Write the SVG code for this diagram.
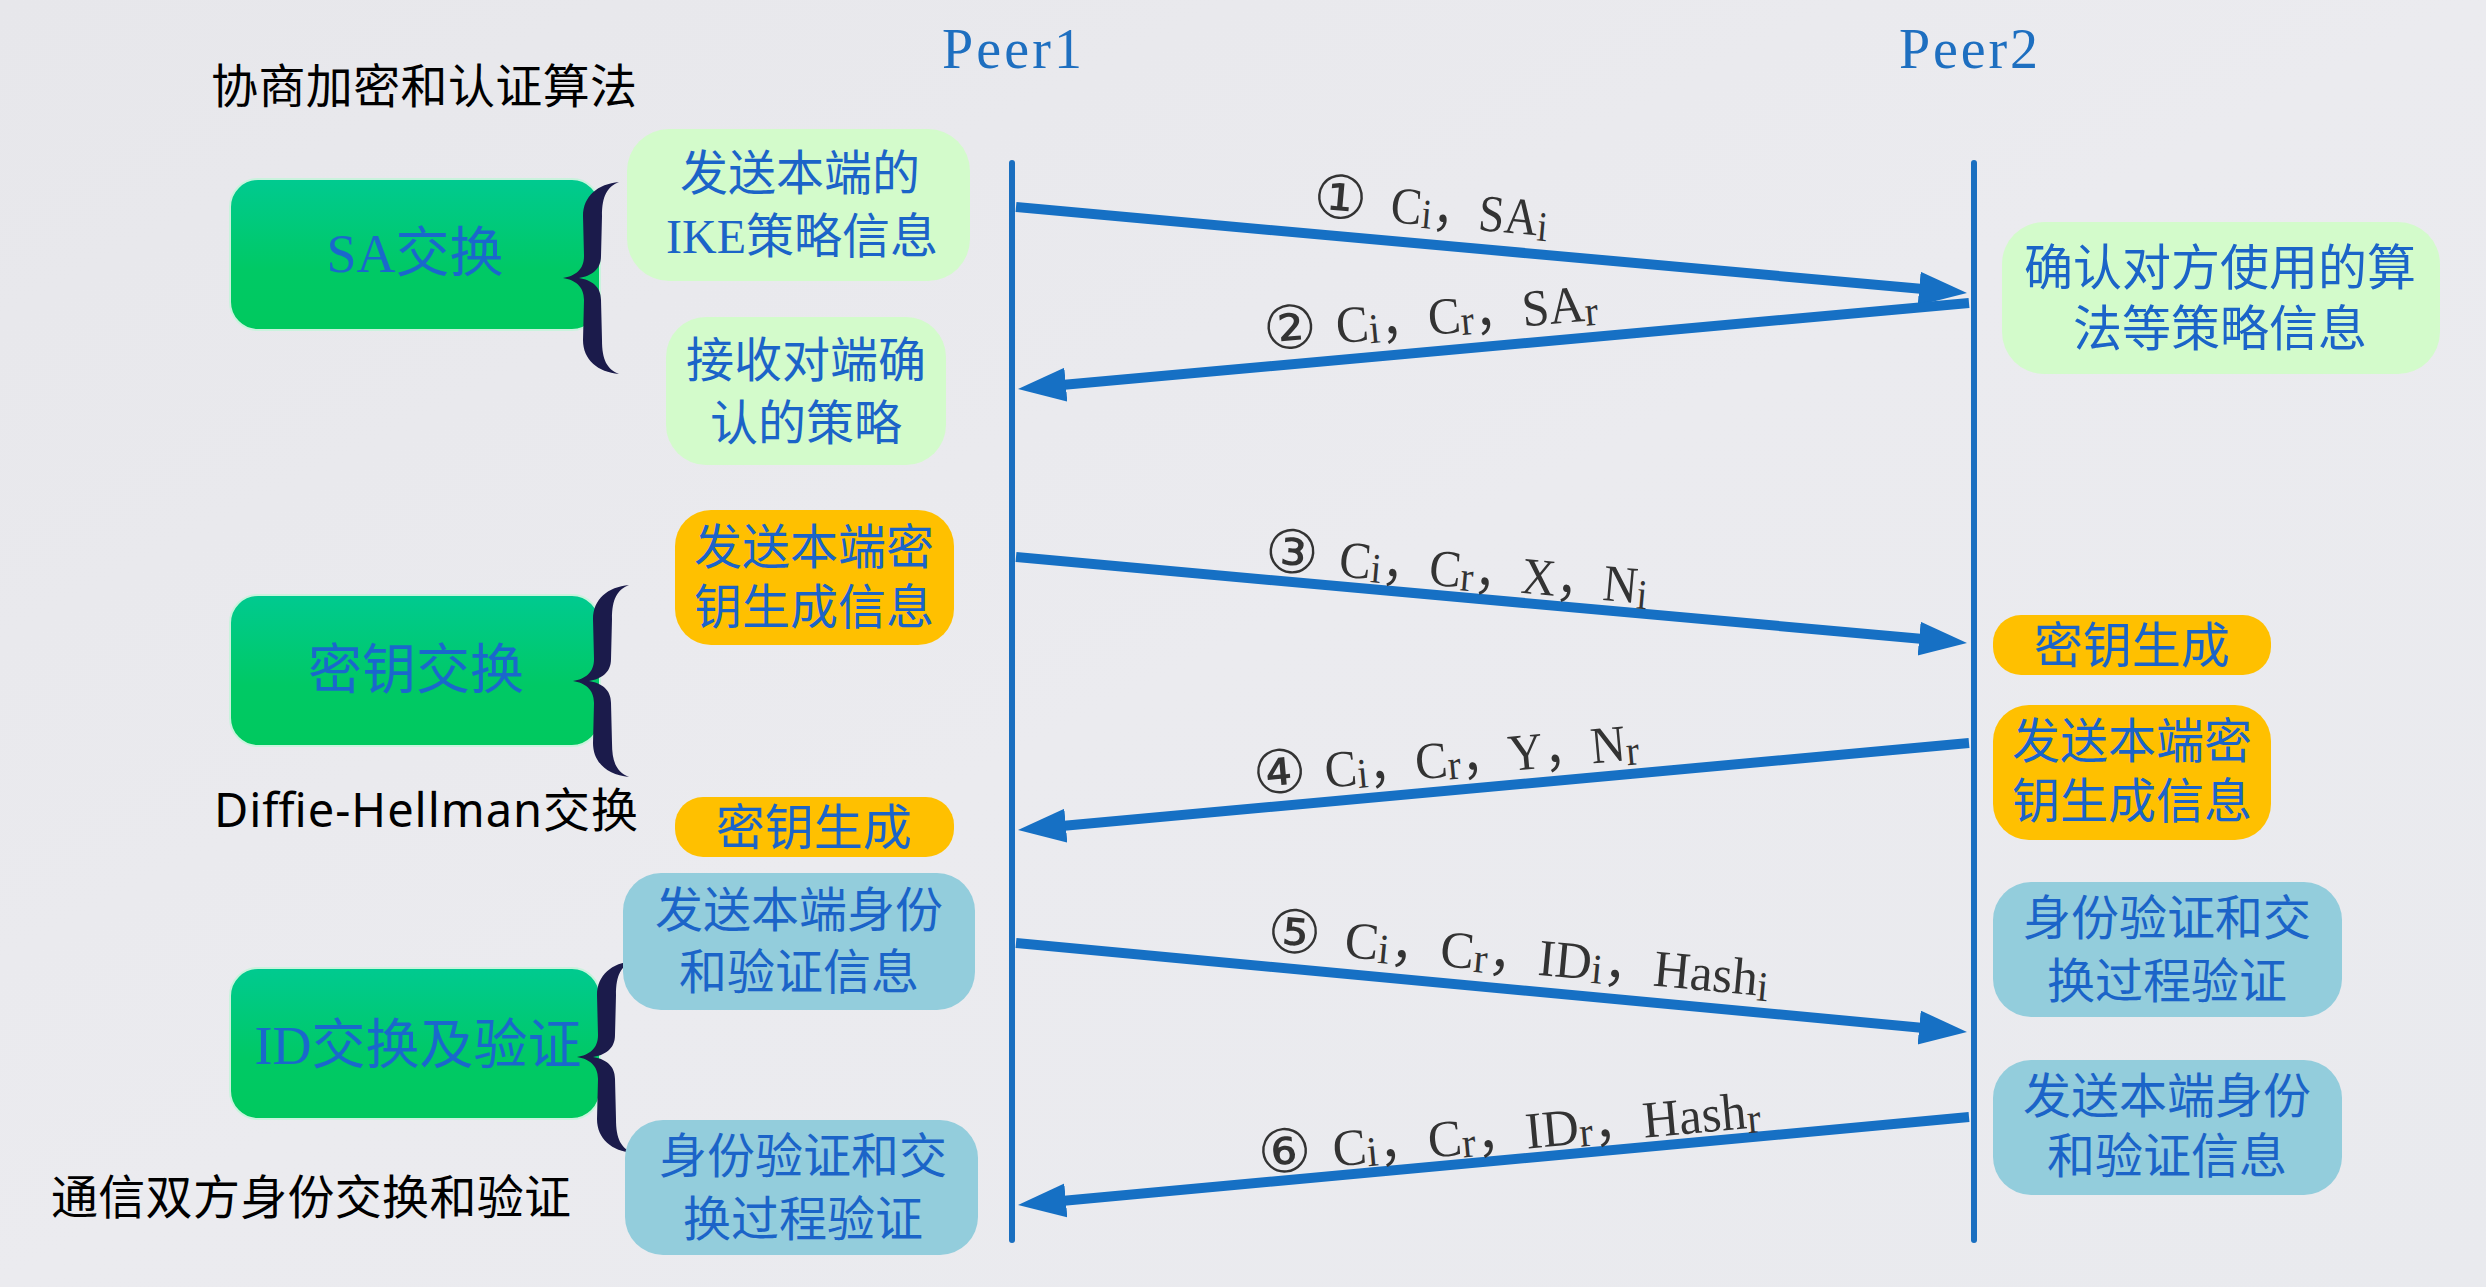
<svg xmlns="http://www.w3.org/2000/svg" width="2486" height="1287" viewBox="0 0 2486 1287">
<defs>
<linearGradient id="bg" x1="0" y1="0" x2="1" y2="1">
<stop offset="0" stop-color="#e7e7eb"/>
<stop offset="0.5" stop-color="#ebebef"/>
<stop offset="1" stop-color="#e9eaee"/>
</linearGradient>
<linearGradient id="gbox" x1="0" y1="0" x2="0" y2="1">
<stop offset="0" stop-color="#00ca90"/>
<stop offset="0.6" stop-color="#00c965"/>
<stop offset="1" stop-color="#00c95e"/>
</linearGradient>
<marker id="ah" markerUnits="userSpaceOnUse" markerWidth="50" markerHeight="36" refX="18" refY="17" orient="auto">
<path d="M0,0 L48,17 L0,34 Z" fill="#1670c4"/>
</marker>
<path id="brace" d="M56,-96 C35,-94 20,-82 20,-62 L21,-22 C21,-8 12,-2 0,0 C12,2 21,8 21,22 L20,62 C20,82 35,94 56,96 C44,91 39,82 39,62 L38,22 C38,8 28,2 16,0 C28,-2 38,-8 38,-22 L39,-62 C39,-82 44,-91 56,-96 Z"/>
</defs>
<style>
.title{font-family:"Noto Sans","Noto Sans CJK SC",sans-serif;font-size:47px;fill:#000}
.peer{font-family:"Liberation Serif","Noto Sans CJK SC",serif;font-size:56px;fill:#1e6fc0}
.box{fill:url(#gbox);stroke:#c9f3dd;stroke-width:2}
.boxt{font-family:"Liberation Serif","Noto Sans CJK SC",serif;font-size:54px;fill:#1a68cc;text-anchor:middle}
.bt{font-family:"Liberation Serif","Noto Sans CJK SC",serif;font-size:48px;fill:#1b64c8;text-anchor:middle}
.lg{fill:#d3fbcb}
.or{fill:#ffc000}
.bl{fill:#93cddc}
.brace{fill:#1b1b4b}
.life{stroke:#1a6fc0;stroke-width:6;stroke-linecap:round;fill:none}
.arr{stroke:#1670c4;stroke-width:10;fill:none;marker-end:url(#ah)}
.num{font-family:"DejaVu Sans","Noto Sans CJK SC",sans-serif;font-size:60px;fill:#333;text-anchor:middle;dominant-baseline:central}
.lab{font-family:"Liberation Serif","Noto Sans CJK SC",serif;font-size:52px;fill:#333}
.sub{font-size:42px}
</style>
<rect x="0" y="0" width="2486" height="1287" fill="url(#bg)"/>

<g id="titles">
<text class="title" x="211" y="103" textLength="426">协商加密和认证算法</text>
<text class="title" x="214" y="827" textLength="424">Diffie-Hellman交换</text>
<text class="title" x="51" y="1214" textLength="520">通信双方身份交换和验证</text>
</g>

<g id="peer1">
<text class="peer" x="942" y="68" textLength="140">Peer1</text>
</g>
<g id="peer2">
<text class="peer" x="1899" y="68" textLength="139">Peer2</text>
</g>

<g id="sa-exchange">
<rect class="box" x="230" y="179" width="370" height="151" rx="28"/>
<text class="boxt" x="415" y="272">SA交换</text>
<use href="#brace" class="brace" transform="translate(563,278)"/>
</g>
<g id="key-exchange">
<rect class="box" x="230" y="595" width="370" height="151" rx="28"/>
<text class="boxt" x="416" y="689">密钥交换</text>
<use href="#brace" class="brace" transform="translate(573,681)"/>
</g>
<g id="id-exchange">
<rect class="box" x="230" y="968" width="370" height="151" rx="28"/>
<text class="boxt" x="418" y="1064">ID交换及验证</text>
<use href="#brace" class="brace" transform="translate(577,1057)"/>
</g>

<g id="lifelines">
<line class="life" x1="1012" y1="163" x2="1012" y2="1240"/>
<line class="life" x1="1974" y1="163" x2="1974" y2="1240"/>
</g>

<g id="n1">
<rect class="lg" x="627" y="129" width="343" height="152" rx="42"/>
<text class="bt" x="800" y="190">发送本端的</text>
<text class="bt" x="802" y="253">IKE策略信息</text>
</g>
<g id="n2">
<rect class="lg" x="666" y="317" width="280" height="148" rx="40"/>
<text class="bt" x="806" y="377">接收对端确</text>
<text class="bt" x="806" y="440">认的策略</text>
</g>
<g id="n3">
<rect class="or" x="675" y="510" width="279" height="135" rx="36"/>
<text class="bt" x="814" y="564">发送本端密</text>
<text class="bt" x="814" y="624">钥生成信息</text>
</g>
<g id="n4">
<rect class="or" x="675" y="797" width="279" height="60" rx="28"/>
<text class="bt" x="814" y="845" style="font-size:49px">密钥生成</text>
</g>
<g id="n5">
<rect class="bl" x="623" y="873" width="352" height="137" rx="38"/>
<text class="bt" x="799" y="927">发送本端身份</text>
<text class="bt" x="799" y="989">和验证信息</text>
</g>
<g id="n6">
<rect class="bl" x="625" y="1120" width="353" height="135" rx="38"/>
<text class="bt" x="803" y="1173">身份验证和交</text>
<text class="bt" x="803" y="1236">换过程验证</text>
</g>
<g id="n7">
<rect class="lg" x="2002" y="222" width="438" height="152" rx="42"/>
<text class="bt" x="2220" y="285" style="font-size:49px">确认对方使用的算</text>
<text class="bt" x="2220" y="346" style="font-size:49px">法等策略信息</text>
</g>
<g id="n8">
<rect class="or" x="1993" y="615" width="278" height="60" rx="28"/>
<text class="bt" x="2132" y="663" style="font-size:49px">密钥生成</text>
</g>
<g id="n9">
<rect class="or" x="1993" y="705" width="278" height="135" rx="36"/>
<text class="bt" x="2132" y="758">发送本端密</text>
<text class="bt" x="2132" y="818">钥生成信息</text>
</g>
<g id="n10">
<rect class="bl" x="1993" y="882" width="349" height="135" rx="38"/>
<text class="bt" x="2167" y="935">身份验证和交</text>
<text class="bt" x="2167" y="998">换过程验证</text>
</g>
<g id="n11">
<rect class="bl" x="1993" y="1060" width="349" height="135" rx="38"/>
<text class="bt" x="2167" y="1113">发送本端身份</text>
<text class="bt" x="2167" y="1173">和验证信息</text>
</g>

<g id="connectors">
<line class="arr" x1="1016" y1="207" x2="1937.1" y2="290.3"/>
<line class="arr" x1="1969" y1="303" x2="1047.9" y2="386.3"/>
<line class="arr" x1="1016" y1="557" x2="1937.1" y2="640.3"/>
<line class="arr" x1="1969" y1="743" x2="1047.9" y2="827.3"/>
<line class="arr" x1="1016" y1="943" x2="1937.1" y2="1029.2"/>
<line class="arr" x1="1969" y1="1117" x2="1047.9" y2="1202.2"/>

<g transform="translate(1340.5,197.5) rotate(5.17)">
<text class="num" x="0" y="0">①</text>
<text class="lab" x="51" y="20" textLength="158" lengthAdjust="spacingAndGlyphs">C<tspan class="sub" dy="3">i</tspan><tspan dy="-3">，SA</tspan><tspan class="sub" dy="5">i</tspan></text>
</g>
<g transform="translate(1290,327.5) rotate(-5.17)">
<text class="num" x="0" y="0">②</text>
<text class="lab" x="46" y="20" textLength="262" lengthAdjust="spacingAndGlyphs">C<tspan class="sub" dy="3">i</tspan><tspan dy="-3">，C</tspan><tspan class="sub" dy="3">r</tspan><tspan dy="-3">，SA</tspan><tspan class="sub" dy="5">r</tspan></text>
</g>
<g transform="translate(1292,552) rotate(5.17)">
<text class="num" x="0" y="0">③</text>
<text class="lab" x="48" y="20" textLength="310" lengthAdjust="spacingAndGlyphs">C<tspan class="sub" dy="3">i</tspan><tspan dy="-3">，C</tspan><tspan class="sub" dy="3">r</tspan><tspan dy="-3">，X，N</tspan><tspan class="sub" dy="5">i</tspan></text>
</g>
<g transform="translate(1279.5,772) rotate(-5.23)">
<text class="num" x="0" y="0">④</text>
<text class="lab" x="45" y="20" textLength="315" lengthAdjust="spacingAndGlyphs">C<tspan class="sub" dy="3">i</tspan><tspan dy="-3">，C</tspan><tspan class="sub" dy="3">r</tspan><tspan dy="-3">，Y，N</tspan><tspan class="sub" dy="5">r</tspan></text>
</g>
<g transform="translate(1294.5,932) rotate(5.35)">
<text class="num" x="0" y="0">⑤</text>
<text class="lab" x="51" y="20" textLength="426" lengthAdjust="spacingAndGlyphs">C<tspan class="sub" dy="3">i</tspan><tspan dy="-3">，C</tspan><tspan class="sub" dy="3">r</tspan><tspan dy="-3">，ID</tspan><tspan class="sub" dy="3">i</tspan><tspan dy="-3">，Hash</tspan><tspan class="sub" dy="5">i</tspan></text>
</g>
<g transform="translate(1284.5,1151) rotate(-5.29)">
<text class="num" x="0" y="0">⑥</text>
<text class="lab" x="48" y="20" textLength="429" lengthAdjust="spacingAndGlyphs">C<tspan class="sub" dy="3">i</tspan><tspan dy="-3">，C</tspan><tspan class="sub" dy="3">r</tspan><tspan dy="-3">，ID</tspan><tspan class="sub" dy="3">r</tspan><tspan dy="-3">，Hash</tspan><tspan class="sub" dy="5">r</tspan></text>
</g>
</g>
</svg>
